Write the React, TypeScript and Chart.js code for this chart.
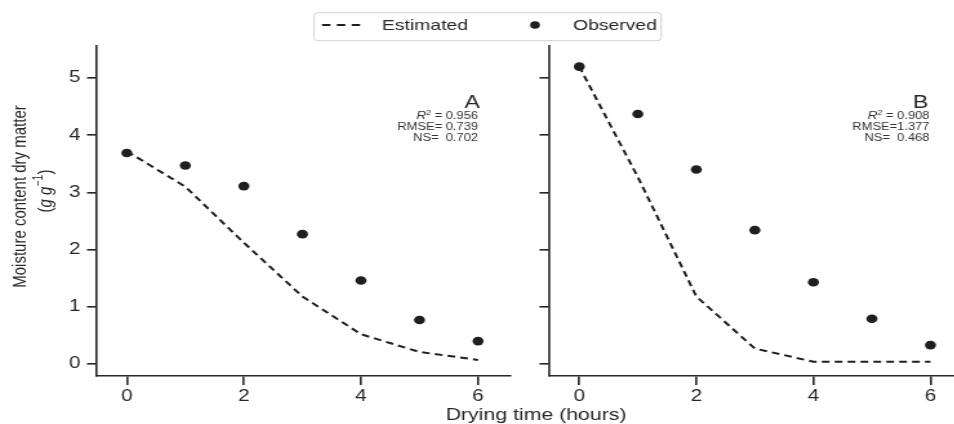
import React, { useEffect, useRef } from 'react';
import { Chart, registerables } from 'chart.js';

Chart.register(...registerables);

// ---------- data ----------
const hours = [0, 1, 2, 3, 4, 5, 6];
const estimatedA = [3.72, 3.1, 2.12, 1.18, 0.52, 0.21, 0.07];
const observedA = [3.69, 3.47, 3.11, 2.27, 1.46, 0.77, 0.4];
const estimatedB = [5.2, 3.27, 1.18, 0.27, 0.04, 0.04, 0.04];
const observedB = [5.2, 4.37, 3.4, 2.34, 1.43, 0.79, 0.33];
const xTicks = [0, 2, 4, 6];
const yTicks = [0, 1, 2, 3, 4, 5];
const seriesLabels = ['Estimated', 'Observed'];
const panelLetters = ['A', 'B'];
const statsR2 = ['0.956', '0.908'];
const statsRMSE = [' 0.739', '1.377'];
const statsNS = ['0.702', '0.468'];
const xTitle = 'Drying time (hours)';
const yTitle = 'Moisture content dry matter';

// ---------- style / layout ----------
const FONT = '"Liberation Sans", Arial, Helvetica, sans-serif';
const INK = '#262626';
const MARK = '#1f1f1f';
const CANVAS_H = 424;
const STRETCH = 954 / 740; // the figure is horizontally stretched
const X_MIN = -0.51;
const X_MAX = 6.546;
const Y_MIN = -0.21;
const Y_MAX = 5.56;
const TOP_PAD = 46;
const X_AXIS_H = 48;

interface PanelLayout {
  canvasW: number;
  padLeft: number;
  yWidth: number;
  padRight: number;
  letterX: number;
  statsX: number;
  yLabels: boolean;
}

const layoutA: PanelLayout = { canvasW: 740, padLeft: 0, yWidth: 75.2, padRight: 740 - 395.6, letterX: 372.3, statsX: 370.8, yLabels: true };
const layoutB: PanelLayout = { canvasW: 780, padLeft: 416, yWidth: 10, padRight: 780 - 746.2, letterX: 719.8, statsX: 720.6, yLabels: false };

type Part = { t: string; font: string; dy?: number };

function drawParts(ctx: CanvasRenderingContext2D, parts: Part[], x: number, y: number, align: 'left' | 'right' | 'center') {
  let total = 0;
  for (const p of parts) {
    ctx.font = p.font;
    total += ctx.measureText(p.t).width;
  }
  let cx = align === 'left' ? x : align === 'right' ? x - total : x - total / 2;
  ctx.textAlign = 'left';
  for (const p of parts) {
    ctx.font = p.font;
    ctx.fillText(p.t, cx, y + (p.dy || 0));
    cx += ctx.measureText(p.t).width;
  }
}

function toXY(xs: number[], ys: number[]) {
  return xs.map((x, i) => ({ x, y: ys[i] }));
}

function panelTextPlugin(idx: number, lay: PanelLayout) {
  return {
    id: 'panelText' + idx,
    afterDraw(chart: any) {
      const ctx: CanvasRenderingContext2D = chart.ctx;
      ctx.save();
      ctx.fillStyle = INK;
      ctx.textBaseline = 'alphabetic';
      ctx.textAlign = 'right';
      ctx.font = `18px ${FONT}`;
      ctx.fillText(panelLetters[idx], lay.letterX, 108);
      ctx.fillStyle = '#333333';
      ctx.textBaseline = 'middle';
      const f = `10px ${FONT}`;
      const fi = `italic 10.5px ${FONT}`;
      drawParts(
        ctx,
        [
          { t: 'R', font: fi },
          { t: '2', font: `7px ${FONT}`, dy: -3.2 },
          { t: ' = ' + statsR2[idx], font: f },
        ],
        lay.statsX,
        116,
        'right'
      );
      drawParts(ctx, [{ t: 'RMSE=' + statsRMSE[idx], font: f }], lay.statsX, 127, 'right');
      drawParts(ctx, [{ t: 'NS=  ' + statsNS[idx], font: f }], lay.statsX, 138, 'right');
      ctx.restore();
    },
  };
}

const figureTextPlugin = {
  id: 'figureText',
  afterDraw(chart: any) {
    const ctx: CanvasRenderingContext2D = chart.ctx;
    const ds = chart.data.datasets;
    ctx.save();
    // legend box
    const bx = 243.6, by = 12.7, bw = 269.3, bh = 28, r = 3;
    ctx.beginPath();
    ctx.moveTo(bx + r, by);
    ctx.lineTo(bx + bw - r, by);
    ctx.quadraticCurveTo(bx + bw, by, bx + bw, by + r);
    ctx.lineTo(bx + bw, by + bh - r);
    ctx.quadraticCurveTo(bx + bw, by + bh, bx + bw - r, by + bh);
    ctx.lineTo(bx + r, by + bh);
    ctx.quadraticCurveTo(bx, by + bh, bx, by + bh - r);
    ctx.lineTo(bx, by + r);
    ctx.quadraticCurveTo(bx, by, bx + r, by);
    ctx.closePath();
    ctx.fillStyle = 'rgba(255,255,255,0.85)';
    ctx.fill();
    ctx.strokeStyle = '#d0d0d0';
    ctx.lineWidth = 1;
    ctx.stroke();
    // estimated sample
    ctx.strokeStyle = ds[0].borderColor;
    ctx.lineWidth = ds[0].borderWidth;
    ctx.setLineDash([6.5, 5]);
    ctx.beginPath();
    ctx.moveTo(249.8, 25);
    ctx.lineTo(279.3, 25);
    ctx.stroke();
    ctx.setLineDash([]);
    ctx.fillStyle = INK;
    ctx.font = `15px ${FONT}`;
    ctx.textAlign = 'left';
    ctx.textBaseline = 'middle';
    ctx.fillText(ds[0].label, 296.3, 25.5);
    // observed sample
    ctx.fillStyle = ds[1].pointBackgroundColor;
    ctx.beginPath();
    ctx.arc(415, 25, 3.8, 0, Math.PI * 2);
    ctx.fill();
    ctx.fillStyle = INK;
    ctx.fillText(ds[1].label, 444.5, 25.5);

    // x title
    ctx.font = `16.5px ${FONT}`;
    ctx.textAlign = 'center';
    ctx.textBaseline = 'alphabetic';
    ctx.fillText(xTitle, 415.8, 420);

    // y title
    ctx.save();
    ctx.translate(16.3, 196.5);
    ctx.rotate(-Math.PI / 2);
    ctx.textAlign = 'center';
    ctx.textBaseline = 'middle';
    ctx.font = `15px ${FONT}`;
    ctx.fillText(yTitle, 0, 0);
    ctx.restore();
    ctx.save();
    ctx.translate(35.7, 191);
    ctx.rotate(-Math.PI / 2);
    ctx.textBaseline = 'middle';
    const n = `15px ${FONT}`;
    const it = `italic 15px ${FONT}`;
    drawParts(
      ctx,
      [
        { t: '(', font: n },
        { t: 'g', font: it },
        { t: ' ', font: n },
        { t: 'g', font: it },
        { t: '−1', font: `10.5px ${FONT}`, dy: -5.5 },
        { t: ')', font: n },
      ],
      0,
      0,
      'center'
    );
    ctx.restore();
    ctx.restore();
  },
};

function makeConfig(idx: number, est: number[], obs: number[], lay: PanelLayout, extra: any[]): any {
  const axisGrid = (tl: number) => ({
    display: true,
    drawOnChartArea: false,
    drawTicks: true,
    tickLength: tl,
    color: INK,
    lineWidth: 1.6,
  });
  return {
    type: 'scatter',
    data: {
      datasets: [
        {
          label: seriesLabels[0],
          data: toXY(hours, est),
          showLine: true,
          borderColor: MARK,
          backgroundColor: MARK,
          borderWidth: 2,
          borderDash: [6, 4],
          pointRadius: 0,
          pointHoverRadius: 0,
          tension: 0,
          order: 2,
        },
        {
          label: seriesLabels[1],
          data: toXY(hours, obs),
          showLine: false,
          borderColor: MARK,
          backgroundColor: MARK,
          pointBackgroundColor: MARK,
          pointBorderColor: MARK,
          pointBorderWidth: 0,
          pointRadius: 4.3,
          pointHoverRadius: 4.3,
          order: 1,
        },
      ],
    },
    options: {
      animation: false,
      responsive: false,
      devicePixelRatio: 1,
      events: [],
      layout: { padding: { top: TOP_PAD, bottom: 0, left: lay.padLeft, right: lay.padRight } },
      plugins: { legend: { display: false }, tooltip: { enabled: false }, title: { display: false } },
      scales: {
        x: {
          type: 'linear',
          min: X_MIN,
          max: X_MAX,
          afterBuildTicks: (s: any) => {
            s.ticks = xTicks.map((v) => ({ value: v }));
          },
          afterFit: (s: any) => {
            s.height = X_AXIS_H;
          },
          grid: axisGrid(9),
          border: { display: true, color: INK, width: 1.6 },
          ticks: {
            color: INK,
            font: { family: FONT, size: 16 },
            padding: 2,
            maxRotation: 0,
            autoSkip: false,
            callback: (v: any) => String(v),
          },
        },
        y: {
          type: 'linear',
          min: Y_MIN,
          max: Y_MAX,
          afterBuildTicks: (s: any) => {
            s.ticks = yTicks.map((v) => ({ value: v }));
          },
          afterFit: (s: any) => {
            s.width = lay.yWidth;
          },
          grid: axisGrid(7.75),
          border: { display: true, color: INK, width: 1.6 },
          ticks: {
            display: lay.yLabels,
            color: INK,
            font: { family: FONT, size: 16 },
            padding: 5,
            autoSkip: false,
            callback: (v: any) => String(v),
          },
        },
      },
    },
    plugins: [panelTextPlugin(idx, lay), ...extra],
  };
}

export default function App() {
  const refA = useRef<HTMLCanvasElement>(null);
  const refB = useRef<HTMLCanvasElement>(null);

  useEffect(() => {
    const a = new Chart(refA.current as HTMLCanvasElement, makeConfig(0, estimatedA, observedA, layoutA, [figureTextPlugin]));
    const b = new Chart(refB.current as HTMLCanvasElement, makeConfig(1, estimatedB, observedB, layoutB, []));
    return () => {
      a.destroy();
      b.destroy();
    };
  }, []);

  return (
    <div style={{ position: 'absolute', left: 0, top: 0, width: 954, height: CANVAS_H, overflow: 'hidden', background: '#fff' }}>
      <canvas
        ref={refA}
        width={layoutA.canvasW}
        height={CANVAS_H}
        style={{ position: 'absolute', left: 0, top: 0, width: `${layoutA.canvasW * STRETCH}px`, height: `${CANVAS_H}px` }}
      />
      <canvas
        ref={refB}
        width={layoutB.canvasW}
        height={CANVAS_H}
        style={{ position: 'absolute', left: 0, top: 0, width: `${layoutB.canvasW * STRETCH}px`, height: `${CANVAS_H}px` }}
      />
    </div>
  );
}
